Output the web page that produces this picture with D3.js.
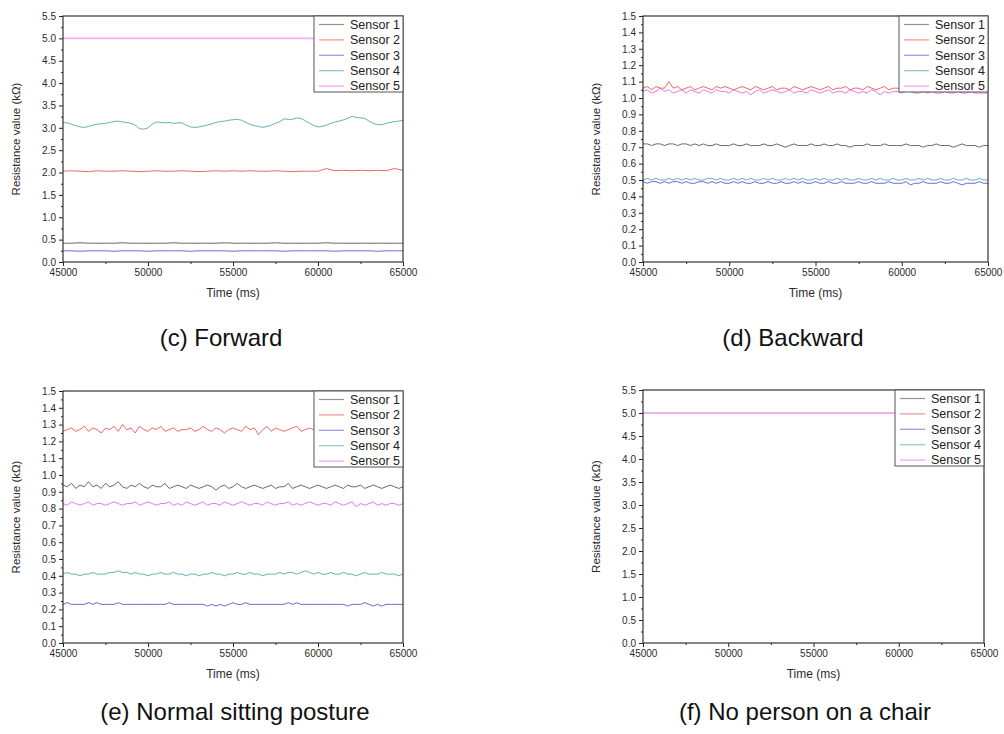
<!DOCTYPE html>
<html>
<head>
<meta charset="utf-8">
<script src="https://cdn.jsdelivr.net/npm/d3@7"></script>
<style>
  body { margin: 0; background: #fff; }
  svg text { font-family: "Liberation Sans", Arial, sans-serif; }
</style>
</head>
<body>
<svg id="chart" width="1004" height="734"></svg>
<script>
// ---- data ----
const sensorNames = ['Sensor 1', 'Sensor 2', 'Sensor 3', 'Sensor 4', 'Sensor 5'];
const captions = ['(c) Forward', '(d) Backward', '(e) Normal sitting posture', '(f) No person on a chair'];
const xTicks = [45000, 50000, 55000, 60000, 65000];
const yMaxes = [5.5, 1.5, 1.5, 5.5];
const yMajorSteps = [0.5, 0.1, 0.1, 0.5];

// (c) Forward, one value every 500 ms (sensor 4 every 250 ms)
const forwardS1 = [0.42,0.42,0.43,0.42,0.42,0.42,0.42,0.43,0.42,0.42,0.42,0.42,0.42,0.43,0.42,0.42,0.42,0.42,0.42,0.43,0.42,0.42,0.42,0.42,0.42,0.43,0.42,0.42,0.42,0.42,0.42,0.43,0.42,0.42,0.42,0.42,0.42,0.42,0.42,0.42,0.42];
const forwardS2 = [2.03,2.04,2.03,2.02,2.04,2.03,2.03,2.04,2.03,2.02,2.03,2.04,2.03,2.03,2.04,2.03,2.02,2.03,2.04,2.03,2.04,2.03,2.04,2.03,2.03,2.04,2.03,2.02,2.03,2.03,2.03,2.09,2.04,2.05,2.04,2.05,2.04,2.05,2.04,2.09,2.05];
const forwardS3 = [0.25,0.25,0.24,0.25,0.25,0.25,0.24,0.25,0.25,0.25,0.24,0.25,0.25,0.25,0.25,0.24,0.25,0.25,0.25,0.25,0.24,0.25,0.25,0.25,0.25,0.25,0.24,0.25,0.25,0.25,0.25,0.25,0.24,0.25,0.25,0.25,0.25,0.24,0.25,0.25,0.25];
const forwardS4 = [3.12,3.11,3.08,3.05,3.02,3.01,3.03,3.06,3.08,3.09,3.10,3.12,3.14,3.15,3.13,3.12,3.10,3.06,2.98,2.97,3.00,3.08,3.13,3.12,3.11,3.12,3.10,3.11,3.11,3.06,3.02,3.01,3.02,3.04,3.06,3.09,3.12,3.14,3.15,3.17,3.18,3.19,3.17,3.12,3.08,3.05,3.03,3.01,3.03,3.06,3.10,3.14,3.20,3.19,3.19,3.22,3.21,3.16,3.10,3.05,3.02,3.03,3.06,3.10,3.13,3.15,3.18,3.21,3.26,3.23,3.22,3.21,3.15,3.10,3.07,3.07,3.10,3.12,3.14,3.15,3.17];
const forwardS5 = [5.0, 5.0];

// (d) Backward, one value every 250 ms
const backwardS1 = [0.72,0.72,0.71,0.72,0.72,0.71,0.72,0.72,0.71,0.72,0.72,0.71,0.72,0.71,0.72,0.71,0.71,0.72,0.71,0.71,0.71,0.72,0.71,0.71,0.72,0.71,0.71,0.71,0.72,0.71,0.71,0.72,0.71,0.70,0.71,0.72,0.71,0.71,0.71,0.72,0.71,0.71,0.72,0.71,0.71,0.72,0.71,0.71,0.70,0.71,0.71,0.71,0.72,0.71,0.71,0.71,0.72,0.71,0.71,0.71,0.71,0.72,0.71,0.71,0.71,0.70,0.71,0.71,0.72,0.71,0.71,0.71,0.70,0.71,0.72,0.71,0.71,0.71,0.70,0.71,0.71];
const backwardS2 = [1.06,1.07,1.05,1.07,1.06,1.06,1.10,1.06,1.07,1.05,1.06,1.07,1.05,1.06,1.07,1.06,1.05,1.07,1.06,1.07,1.06,1.05,1.06,1.07,1.06,1.05,1.07,1.06,1.05,1.06,1.07,1.05,1.06,1.06,1.05,1.07,1.06,1.05,1.06,1.07,1.06,1.05,1.06,1.07,1.05,1.06,1.06,1.07,1.05,1.06,1.06,1.05,1.07,1.06,1.05,1.06,1.07,1.05,1.06,1.06,1.05,1.06,1.05,1.06,1.05,1.05,1.06,1.05,1.05,1.04,1.05,1.04,1.05,1.04,1.04,1.05,1.04,1.04,1.05,1.04,1.04];
const backwardS3 = [0.49,0.48,0.49,0.49,0.48,0.49,0.48,0.49,0.49,0.48,0.49,0.48,0.48,0.49,0.49,0.48,0.49,0.48,0.49,0.48,0.48,0.49,0.48,0.49,0.48,0.48,0.49,0.48,0.48,0.49,0.48,0.48,0.49,0.48,0.48,0.49,0.48,0.49,0.48,0.48,0.49,0.48,0.48,0.49,0.48,0.48,0.49,0.48,0.48,0.48,0.49,0.48,0.48,0.49,0.48,0.48,0.48,0.49,0.48,0.48,0.48,0.49,0.47,0.48,0.48,0.49,0.48,0.48,0.48,0.49,0.48,0.48,0.49,0.48,0.47,0.48,0.48,0.48,0.49,0.48,0.48];
const backwardS4 = [0.50,0.51,0.50,0.51,0.50,0.50,0.51,0.50,0.51,0.50,0.51,0.50,0.51,0.50,0.50,0.51,0.51,0.50,0.51,0.50,0.50,0.51,0.50,0.51,0.50,0.51,0.50,0.50,0.51,0.50,0.51,0.50,0.50,0.51,0.50,0.51,0.50,0.51,0.50,0.50,0.51,0.50,0.51,0.50,0.50,0.51,0.50,0.51,0.50,0.50,0.51,0.50,0.50,0.51,0.50,0.51,0.50,0.50,0.51,0.50,0.50,0.51,0.50,0.50,0.51,0.50,0.51,0.50,0.50,0.51,0.50,0.50,0.51,0.50,0.50,0.51,0.50,0.50,0.51,0.50,0.50];
const backwardS5 = [1.04,1.05,1.03,1.04,1.06,1.04,1.05,1.03,1.04,1.05,1.03,1.05,1.04,1.03,1.05,1.04,1.03,1.05,1.04,1.04,1.03,1.05,1.04,1.03,1.04,1.02,1.04,1.05,1.03,1.04,1.05,1.04,1.03,1.04,1.05,1.03,1.04,1.04,1.03,1.05,1.04,1.03,1.04,1.05,1.03,1.04,1.04,1.03,1.05,1.04,1.03,1.04,1.03,1.05,1.04,1.02,1.04,1.03,1.04,1.04,1.03,1.04,1.04,1.03,1.03,1.04,1.03,1.04,1.03,1.03,1.04,1.03,1.03,1.04,1.03,1.03,1.04,1.03,1.03,1.03,1.03];

// (e) Normal sitting posture, one value every 250 ms
const normalS1 = [0.94,0.93,0.95,0.92,0.94,0.93,0.96,0.93,0.94,0.92,0.95,0.93,0.94,0.96,0.93,0.92,0.94,0.93,0.95,0.93,0.92,0.94,0.93,0.93,0.95,0.92,0.93,0.94,0.93,0.92,0.94,0.93,0.92,0.93,0.94,0.93,0.91,0.93,0.94,0.92,0.93,0.95,0.93,0.92,0.93,0.94,0.93,0.92,0.93,0.94,0.92,0.93,0.93,0.95,0.92,0.93,0.94,0.93,0.92,0.93,0.94,0.93,0.92,0.93,0.94,0.93,0.92,0.94,0.93,0.93,0.94,0.92,0.93,0.94,0.93,0.92,0.93,0.94,0.93,0.92,0.93];
const normalS2 = [1.26,1.27,1.28,1.26,1.27,1.29,1.26,1.28,1.27,1.25,1.28,1.27,1.29,1.26,1.30,1.27,1.28,1.25,1.29,1.27,1.26,1.28,1.27,1.29,1.26,1.27,1.28,1.26,1.27,1.27,1.28,1.26,1.27,1.29,1.27,1.26,1.28,1.27,1.25,1.27,1.28,1.27,1.26,1.29,1.27,1.28,1.24,1.27,1.29,1.26,1.28,1.27,1.26,1.27,1.28,1.29,1.26,1.27,1.28,1.27,1.26,1.28,1.27,1.27,1.29,1.26,1.27,1.28,1.26,1.27,1.28,1.27,1.26,1.27,1.28,1.27,1.26,1.27,1.28,1.27,1.27];
const normalS3 = [0.23,0.24,0.23,0.23,0.23,0.23,0.24,0.23,0.24,0.23,0.23,0.23,0.23,0.24,0.23,0.23,0.23,0.23,0.23,0.23,0.23,0.23,0.23,0.23,0.23,0.24,0.23,0.23,0.23,0.23,0.23,0.23,0.23,0.23,0.22,0.23,0.22,0.23,0.22,0.23,0.24,0.23,0.23,0.24,0.23,0.23,0.23,0.23,0.23,0.23,0.23,0.23,0.23,0.24,0.23,0.24,0.23,0.23,0.23,0.23,0.23,0.23,0.23,0.23,0.23,0.23,0.23,0.22,0.23,0.23,0.23,0.24,0.23,0.22,0.23,0.22,0.23,0.23,0.23,0.23,0.23];
const normalS4 = [0.41,0.42,0.41,0.41,0.40,0.41,0.41,0.42,0.41,0.41,0.41,0.42,0.42,0.43,0.42,0.42,0.41,0.42,0.41,0.41,0.40,0.41,0.41,0.42,0.41,0.41,0.42,0.41,0.41,0.40,0.41,0.41,0.40,0.41,0.41,0.42,0.41,0.41,0.40,0.41,0.41,0.42,0.41,0.41,0.42,0.41,0.41,0.40,0.41,0.41,0.41,0.42,0.41,0.42,0.42,0.41,0.42,0.43,0.42,0.41,0.42,0.41,0.41,0.42,0.41,0.41,0.42,0.41,0.41,0.40,0.41,0.42,0.41,0.41,0.41,0.42,0.41,0.41,0.41,0.40,0.41];
const normalS5 = [0.83,0.82,0.84,0.83,0.82,0.83,0.84,0.82,0.83,0.83,0.82,0.83,0.84,0.83,0.82,0.83,0.83,0.84,0.82,0.83,0.84,0.83,0.82,0.83,0.83,0.84,0.82,0.83,0.82,0.84,0.83,0.82,0.83,0.84,0.82,0.83,0.83,0.82,0.84,0.83,0.82,0.83,0.84,0.83,0.82,0.83,0.83,0.82,0.84,0.83,0.82,0.83,0.83,0.84,0.82,0.83,0.82,0.83,0.84,0.83,0.82,0.83,0.83,0.82,0.84,0.83,0.82,0.83,0.84,0.81,0.83,0.82,0.83,0.84,0.82,0.83,0.82,0.83,0.83,0.82,0.83];

// (f) No person on a chair: every sensor sits at 5.0
const emptyS1 = [5.0, 5.0];
const emptyS2 = [5.0, 5.0];
const emptyS3 = [5.0, 5.0];
const emptyS4 = [5.0, 5.0];
const emptyS5 = [5.0, 5.0];

const panelSeries = [
  [forwardS1, forwardS2, forwardS3, forwardS4, forwardS5],
  [backwardS1, backwardS2, backwardS3, backwardS4, backwardS5],
  [normalS1, normalS2, normalS3, normalS4, normalS5],
  [emptyS1, emptyS2, emptyS3, emptyS4, emptyS5]
];

// ---- look ----
const colors = ['#3a3a3a', '#e43a3a', '#3c3cd2', '#2f9c98', '#e04ee0'];
const boxes = [
  {x0: 63, x1: 403, y0: 16, y1: 262, cx: 221, cy: 346},
  {x0: 643, x1: 988, y0: 16, y1: 262, cx: 793, cy: 346},
  {x0: 63, x1: 403, y0: 391, y1: 643, cx: 235, cy: 720},
  {x0: 643, x1: 984, y0: 390, y1: 643, cx: 805, cy: 720}
];
const lighten = c => d3.interpolateRgb(c, '#fff')(0.55);

const svg = d3.select('#chart');

boxes.forEach((b, p) => {
  const g = svg.append('g');
  const x = d3.scaleLinear().domain([45000, 65000]).range([b.x0, b.x1]);
  const y = d3.scaleLinear().domain([0, yMaxes[p]]).range([b.y1, b.y0]);
  const step = yMajorSteps[p];
  const nMaj = Math.round(yMaxes[p] / step);
  const yMajor = d3.range(nMaj + 1).map(i => +(i * step).toFixed(2));
  const yMinor = d3.range(nMaj).map(i => (i + 0.5) * step);
  const xMinor = xTicks.slice(1).map(v => v - 2500);

  // lines, clipped to the plot
  const clipId = 'clip' + p;
  g.append('clipPath').attr('id', clipId).append('rect')
      .attr('x', b.x0).attr('y', b.y0).attr('width', b.x1 - b.x0).attr('height', b.y1 - b.y0);
  const lines = g.append('g').attr('clip-path', `url(#${clipId})`);
  panelSeries[p].forEach((vals, s) => {
    const n = vals.length;
    const pts = vals.map((v, i) => [45000 + i * 20000 / (n - 1), v]);
    const flat = n === 2;
    lines.append('path')
        .datum(pts)
        .attr('fill', 'none')
        .attr('stroke', flat ? lighten(colors[s]) : colors[s])
        .attr('stroke-width', flat ? 1.8 : 0.9)
        .attr('stroke-opacity', flat ? 1 : 0.85)
        .attr('stroke-linejoin', 'round')
        .attr('d', d3.line().x(d => x(d[0])).y(d => y(d[1])));
  });

  // axes
  const yAx = g.append('g').attr('transform', `translate(${b.x0},0)`)
      .call(d3.axisLeft(y).tickValues(yMajor).tickSize(4).tickPadding(3).tickFormat(d3.format('.1f')));
  g.append('g').attr('transform', `translate(${b.x0},0)`)
      .call(d3.axisLeft(y).tickValues(yMinor).tickSize(2).tickFormat(''));
  const xAx = g.append('g').attr('transform', `translate(0,${b.y1})`)
      .call(d3.axisBottom(x).tickValues(xTicks).tickSize(4).tickPadding(3).tickFormat(d3.format('d')));
  g.append('g').attr('transform', `translate(0,${b.y1})`)
      .call(d3.axisBottom(x).tickValues(xMinor).tickSize(2).tickFormat(''));
  g.selectAll('.domain').remove();
  g.selectAll('.tick line').attr('stroke', '#222');
  [yAx, xAx].forEach(a => a.selectAll('text').attr('font-size', 10).attr('fill', '#2a2a2a')
      .attr('font-family', '"Liberation Sans", Arial, sans-serif'));

  // frame
  g.append('rect')
      .attr('x', b.x0).attr('y', b.y0).attr('width', b.x1 - b.x0).attr('height', b.y1 - b.y0)
      .attr('fill', 'none').attr('stroke', '#333').attr('stroke-width', 1.2);

  // legend
  const lw = 89, lh = 76;
  const lg = g.append('g').attr('transform', `translate(${b.x1 - lw},${b.y0})`);
  lg.append('rect').attr('width', lw).attr('height', lh)
      .attr('fill', '#fff').attr('stroke', '#555').attr('stroke-width', 1);
  sensorNames.forEach((name, s) => {
    const ly = 8.5 + s * 15.4;
    lg.append('line').attr('x1', 5).attr('x2', 30).attr('y1', ly).attr('y2', ly)
        .attr('stroke', colors[s]).attr('stroke-width', 1.2).attr('stroke-opacity', 0.55);
    lg.append('text').attr('x', 36).attr('y', ly + 4.3)
        .attr('font-size', 12.5).attr('fill', '#222').text(name);
  });

  // axis titles
  g.append('text')
      .attr('transform', `translate(${b.x0 - 47},${(b.y0 + b.y1) / 2}) rotate(-90)`)
      .attr('text-anchor', 'middle').attr('dy', '0.35em')
      .attr('font-size', 11.5).attr('fill', '#2a2a2a')
      .text('Resistance value (kΩ)');
  g.append('text')
      .attr('x', (b.x0 + b.x1) / 2).attr('y', b.y1 + 35)
      .attr('text-anchor', 'middle').attr('font-size', 12).attr('fill', '#2a2a2a')
      .text('Time (ms)');

  // caption
  g.append('text')
      .attr('x', b.cx).attr('y', b.cy)
      .attr('text-anchor', 'middle').attr('font-size', 24).attr('fill', '#111')
      .text(captions[p]);
});
</script>
</body>
</html>
